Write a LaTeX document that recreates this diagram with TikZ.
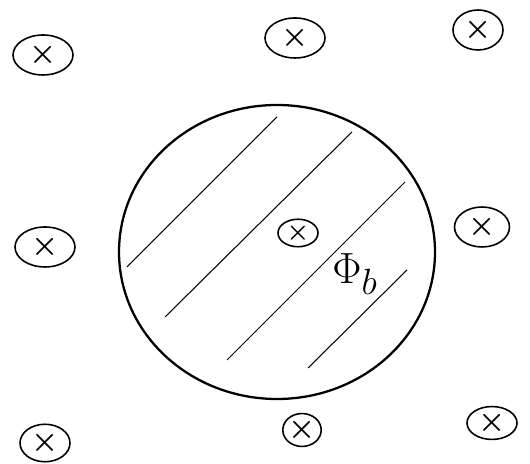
\documentclass[tikz,border=0pt]{standalone}
\usepackage{amsmath,amssymb}
\usepackage{xcolor}
\usepackage{tikz}
\usetikzlibrary{shapes.geometric, positioning}
\tikzstyle{fieldbox} = [ellipse, draw=black, line width=0.9pt, minimum width=1.2cm, minimum height=0.8cm,
  inner sep=0pt, font=\LARGE, text centered]
\tikzstyle{loopline} = [draw=black, line width=1.3pt]
\tikzstyle{hatch} = [draw=black, line width=0.6pt]

\begin{document}
\begin{tikzpicture}

  \useasboundingbox (0,0) rectangle (10.6,9.28);

  % === LOOP ===
  \node (loop) [loopline, ellipse, minimum width=6.32cm, minimum height=5.88cm] at (5.54,4.24) {};

  % === HATCHING ===
  \draw[hatch] (2.54,3.94) -- (5.54,6.94);
  \draw[hatch] (3.30,2.94) -- (7.04,6.64);
  \draw[hatch] (4.54,2.08) -- (8.10,5.64);
  \draw[hatch] (6.16,1.92) -- (8.14,3.88);

  % === FIELD INTO PAGE ===
  \node (tl) [fieldbox] at (0.86,8.18) {$\boldsymbol{\times}$};
  \node (tm) [fieldbox] at (5.90,8.52) {$\boldsymbol{\times}$};
  \node (tr) [fieldbox, minimum width=1.0cm] at (9.56,8.68) {$\boldsymbol{\times}$};
  \node (ml) [fieldbox] at (0.90,4.34) {$\boldsymbol{\times}$};
  \node (cc) [fieldbox, minimum width=0.8cm, minimum height=0.55cm, font=\Large] at (5.96,4.62) {$\boldsymbol{\times}$};
  \node (mr) [fieldbox, minimum width=1.1cm] at (9.64,4.74) {$\boldsymbol{\times}$};
  \node (bl) [fieldbox, minimum width=1.0cm, minimum height=0.75cm] at (0.90,0.42) {$\boldsymbol{\times}$};
  \node (bm) [fieldbox, minimum width=0.75cm, minimum height=0.65cm] at (6.04,0.68) {$\boldsymbol{\times}$};
  \node (br) [fieldbox, minimum width=1.0cm, minimum height=0.65cm] at (9.84,0.82) {$\boldsymbol{\times}$};

  % === FLUX LABEL ===
  \node (flux) [font=\Huge, inner sep=1pt] at (7.10,3.80) {$\Phi_b$};

\end{tikzpicture}
\end{document}
